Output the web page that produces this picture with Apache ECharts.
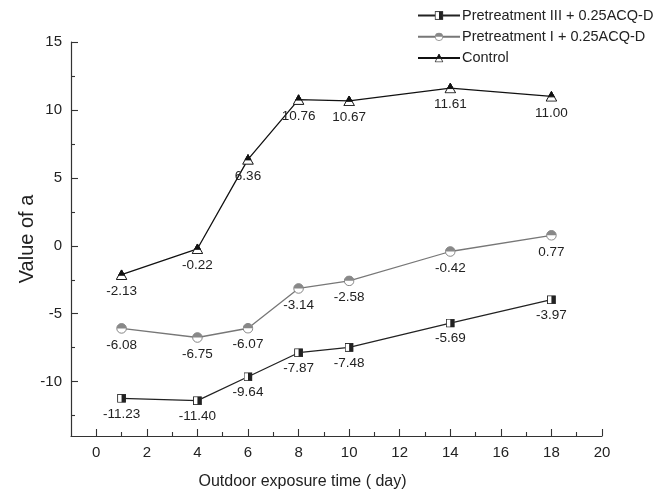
<!DOCTYPE html>
<html>
<head>
<meta charset="utf-8">
<script src="https://cdn.jsdelivr.net/npm/echarts@6/dist/echarts.min.js"></script>
<style>html,body{margin:0;padding:0;background:#fff}#c{width:668px;height:496px}</style>
</head>
<body>
<div id="c"></div>
<script>
const days = [1, 4, 6, 8, 10, 14, 18];
const seriesNames = ['Pretreatment III + 0.25ACQ-D', 'Pretreatment I + 0.25ACQ-D', 'Control'];
const pre3 = [-11.23, -11.40, -9.64, -7.87, -7.48, -5.69, -3.97];
const pre1 = [-6.08, -6.75, -6.07, -3.14, -2.58, -0.42, 0.77];
const control = [-2.13, -0.22, 6.36, 10.76, 10.67, 11.61, 11.00];
const xMajor = [0, 2, 4, 6, 8, 10, 12, 14, 16, 18, 20];
const xMinor = [1, 3, 5, 7, 9, 11, 13, 15, 17, 19];
const yMajor = [-10, -5, 0, 5, 10, 15];
const yMinor = [-12.5, -7.5, -2.5, 2.5, 7.5, 12.5];

function svgImg(s) { return 'image://data:image/svg+xml;charset=utf-8,' + encodeURIComponent(s); }
const triSym = svgImg('<svg xmlns="http://www.w3.org/2000/svg" width="24" height="22" viewBox="0 0 12 11"><polygon points="6,0.7 11.3,10.3 0.7,10.3" fill="#fff" stroke="#111" stroke-width="1"/><polygon points="6,0.7 8.9,6 3.1,6" fill="#111" stroke="#111" stroke-width="1"/></svg>');
const cirSym = svgImg('<svg xmlns="http://www.w3.org/2000/svg" width="22" height="22" viewBox="0 0 11 11"><circle cx="5.5" cy="5.5" r="4.8" fill="#fff" stroke="#777" stroke-width="0.9"/><path d="M0.7,5.5 A4.8,4.8 0 0 1 10.3,5.5 Z" fill="#888"/></svg>');
const sqSym = svgImg('<svg xmlns="http://www.w3.org/2000/svg" width="20" height="20" viewBox="0 0 10 10"><rect x="0.6" y="0.6" width="8.8" height="8.8" fill="#fff" stroke="#222" stroke-width="1"/><rect x="5" y="0.6" width="4.4" height="8.8" fill="#222"/></svg>');

function mk(name, vals, color, sym, size) {
  return {
    name: name, type: 'line', xAxisIndex: 0, yAxisIndex: 0,
    data: days.map((d, i) => [d, vals[i]]),
    symbol: sym, symbolSize: size, showAllSymbol: true,
    lineStyle: { color: color, width: 1.3 },
    itemStyle: { color: color },
    label: {
      show: true, position: 'bottom', distance: 4,
      fontFamily: 'Liberation Sans', fontSize: 13.5, color: '#222',
      formatter: p => p.value[1].toFixed(2)
    },
    z: 3
  };
}

function tickAxis(min, max, pos, vals, len) {
  return {
    type: 'value', min: min, max: max, position: pos,
    axisLine: { show: false, onZero: false },
    axisTick: { show: true, inside: true, length: len, customValues: vals, lineStyle: { color: '#333', width: 1.1 } },
    axisLabel: { show: false },
    splitLine: { show: false }
  };
}

const chart = echarts.init(document.getElementById('c'));
chart.setOption({
  animation: false,
  backgroundColor: '#fff',
  textStyle: { fontFamily: 'Liberation Sans' },
  grid: { left: 71, right: 66, top: 42, bottom: 60, containLabel: false },
  legend: {
    orient: 'vertical', left: 412, top: 3, itemWidth: 42, itemHeight: 11, itemGap: 6.3,
    data: seriesNames,
    textStyle: { fontFamily: 'Liberation Sans', fontSize: 14.5, color: '#222', padding: [0, 0, 0, -3] }
  },
  xAxis: [{
    type: 'value', min: -1, max: 20, position: 'bottom',
    name: 'Outdoor exposure time ( day)', nameLocation: 'middle', nameGap: 38,
    nameTextStyle: { fontFamily: 'Liberation Sans', fontSize: 16, color: '#222', padding: [0, 68, 0, 0] },
    axisLine: { show: true, onZero: false, lineStyle: { color: '#333', width: 1.2 } },
    axisTick: { show: false },
    axisLabel: { show: true, customValues: xMajor, fontFamily: 'Liberation Sans', fontSize: 15, color: '#222', margin: 9 },
    splitLine: { show: false }
  },
    tickAxis(-1, 20, 'bottom', xMajor, 7),
    tickAxis(-1, 20, 'bottom', xMinor, 4)
  ],
  yAxis: [{
    type: 'value', min: -14, max: 15, position: 'left',
    name: 'Value of a', nameLocation: 'middle', nameGap: 34, nameMoveOverlap: false,
    nameTextStyle: { fontFamily: 'Liberation Sans', fontSize: 20, color: '#222' },
    axisLine: { show: true, onZero: false, lineStyle: { color: '#333', width: 1.2 } },
    axisTick: { show: false },
    axisLabel: { show: true, customValues: yMajor, fontFamily: 'Liberation Sans', fontSize: 15, color: '#222', margin: 9 },
    splitLine: { show: false }
  },
    tickAxis(-14, 15, 'left', yMajor, 7),
    tickAxis(-14, 15, 'left', yMinor, 4)
  ],
  series: [
    mk(seriesNames[0], pre3, '#222', sqSym, [9, 9]),
    mk(seriesNames[1], pre1, '#777', cirSym, [11, 11]),
    mk(seriesNames[2], control, '#111', triSym, [12, 11])
  ]
});
</script>
</body>
</html>
